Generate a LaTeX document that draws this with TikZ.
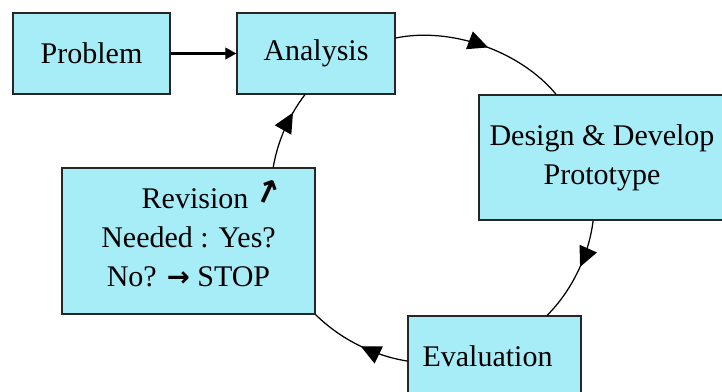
\documentclass[tikz,border=0pt]{standalone}
\usepackage{fontspec}
\setmainfont{Liberation Serif}
\newfontfamily\arrowfont{DejaVu Sans}
\usetikzlibrary{arrows.meta,decorations.markings}
\definecolor{boxcyan}{RGB}{166,237,248}
\def\boldarrow{{\arrowfont\bfseries\fontsize{11}{11}\selectfont →}}
\def\uparrowtilt{{\arrowfont\bfseries\fontsize{13}{13}\selectfont\rotatebox{65}{→}}}

\tikzset{
  stage/.style={draw=black!85, fill=boxcyan, line width=0.5pt, align=center,
    inner sep=0pt, font=\fontsize{12}{15.6}\selectfont},
  loopline/.style={line width=0.5pt, looseness=0.85},
  midarrow/.style={postaction={decorate}, decoration={markings,
    mark=at position #1 with {\arrow{Triangle[length=8pt,width=7.5pt]}}}}
}

\begin{document}
\begin{tikzpicture}[x=0.4pt, y=0.4pt]
\useasboundingbox (0,0) rectangle (722,392);
% boxes
\node[stage, minimum width=62.8pt, minimum height=32.4pt] (prob) at (91.5,338.5) {Problem};
\node[stage, minimum width=63.2pt, minimum height=32.4pt] (ana) at (316,338.5) {Analysis};
\node[stage, minimum width=98.4pt, minimum height=50pt] (des) at (602,234.5) {Design \& Develop\\Prototype};
\node[stage, minimum width=69.2pt, minimum height=32.4pt] (eval) at (494.5,35.5) {Evaluation\hspace{5.6pt}};
\node[stage, minimum width=101.2pt, minimum height=58.4pt, text depth=8pt] (rev) at (188.5,151)
  {\hspace{1.6em}Revision \uparrowtilt\\Needed : Yes?\\No? \boldarrow\ STOP};
% connectors
\draw[line width=0.9pt, -{Triangle[length=4.4pt,width=4.6pt]}] (prob) -- (ana);
\draw[loopline, midarrow=0.53] (ana.11) to[bend left=31] (des.126);
\draw[loopline, midarrow=0.45] (des.262) to[bend left=19] (eval.38);
\draw[loopline, midarrow=0.47] (eval.183) to[bend left=18] (rev.south east);
\draw[loopline, midarrow=0.73] (rev.41) to[bend left=14] (ana.255);
\end{tikzpicture}
\end{document}
